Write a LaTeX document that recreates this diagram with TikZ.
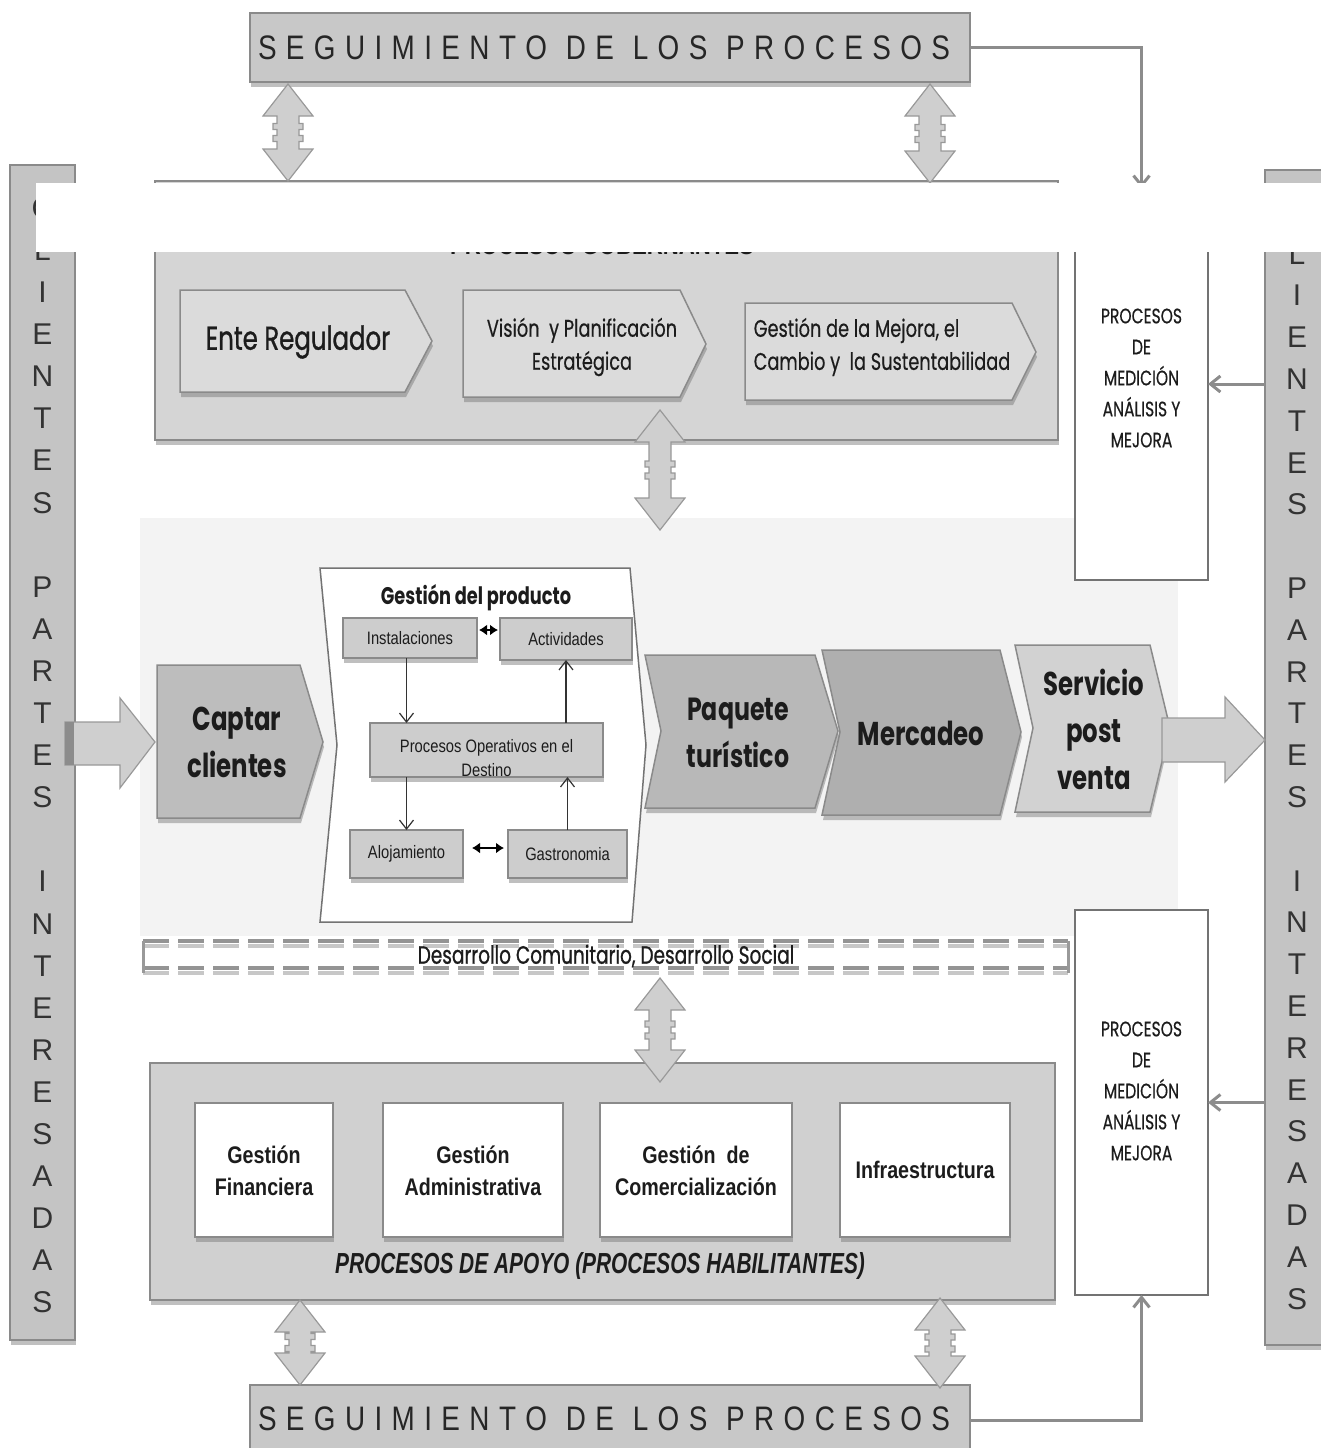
\documentclass[tikz,border=0pt]{standalone}
\usepackage{fontspec}
\usetikzlibrary{shadows,arrows.meta}
\setmainfont{Liberation Sans}
\newfontfamily\nar[FakeStretch=0.82]{Liberation Sans}
\newfontfamily\narr[FakeStretch=0.72]{Liberation Sans}
\newfontfamily\geo[FakeStretch=0.74]{Poppins}
\newfontfamily\geom[FakeStretch=0.74,FakeBold=0.9]{Poppins}
\newfontfamily\geol[FakeStretch=0.74,FakeBold=0.4]{Poppins}
\definecolor{edgec}{HTML}{8A8A8A}
\definecolor{segc}{HTML}{C8C8C8}
\definecolor{govc}{HTML}{D5D5D5}
\definecolor{chevc}{HTML}{DBDBDB}
\definecolor{captc}{HTML}{BDBDBD}
\definecolor{paqc}{HTML}{B8B8B8}
\definecolor{merc}{HTML}{AFAFAF}
\definecolor{servc}{HTML}{D2D2D2}
\definecolor{supc}{HTML}{D0D0D0}
\definecolor{barc}{HTML}{C4C4C4}
\definecolor{innerc}{HTML}{CDCDCD}
\definecolor{bandc}{HTML}{F3F3F3}
\definecolor{arrc}{HTML}{CFCFCF}
\definecolor{txtc}{HTML}{1C1C1C}
\newcommand\dblarr[3]{%
\pgfmathsetmacro\dblmid{(#2+#3)/2}%
\path[bigarr] (#1,#2) -- ({#1+25},{#2+32}) -- ({#1+11},{#2+32}) -- ({#1+11},{\dblmid-9}) -- ({#1+15},{\dblmid-9}) -- ({#1+15},{\dblmid-3}) -- ({#1+11},{\dblmid-3}) -- ({#1+11},{\dblmid+3}) -- ({#1+15},{\dblmid+3}) -- ({#1+15},{\dblmid+9}) -- ({#1+11},{\dblmid+9}) -- ({#1+11},{#3-32}) -- ({#1+25},{#3-32}) -- (#1,#3) -- ({#1-25},{#3-32}) -- ({#1-11},{#3-32}) -- ({#1-11},{\dblmid+9}) -- ({#1-15},{\dblmid+9}) -- ({#1-15},{\dblmid+3}) -- ({#1-11},{\dblmid+3}) -- ({#1-11},{\dblmid-3}) -- ({#1-15},{\dblmid-3}) -- ({#1-15},{\dblmid-9}) -- ({#1-11},{\dblmid-9}) -- ({#1-11},{#2+32}) -- ({#1-25},{#2+32}) -- cycle;}
\begin{document}
\begin{tikzpicture}[x=1pt,y=-1pt,
  every node/.style={inner sep=0pt,outer sep=0pt,text=txtc},
  shd/.style={drop shadow={shadow xshift=1pt,shadow yshift=-5pt,opacity=0.45,fill=black!55}},
  edgebox/.style={draw=edgec,line width=1.5pt},
  segbox/.style={edgebox,fill=segc,shd},
  barbox/.style={edgebox,fill=barc,shd},
  govbox/.style={edgebox,fill=govc,shd},
  supbox/.style={edgebox,fill=supc,shd},
  medbox/.style={draw=black!55,line width=1.5pt,fill=white},
  whitebox/.style={edgebox,fill=white,shd},
  smallbox/.style={edgebox,fill=innerc,shd},
  chev/.style={edgebox,shd},
  bigarr/.style={draw=black!40,line width=1.2pt,fill=arrc},
  sidelet/.style={font=\fontsize{30}{30}\selectfont,text=black!80},
  segtxt/.style={font=\nar\fontsize{34}{34}\selectfont,text=black!85},
  medtxt/.style={font=\geol\fontsize{21}{31}\selectfont,align=center},
  bigtxt/.style={font=\geo\bfseries\fontsize{33}{47}\selectfont,align=center},
  govtxt/.style={font=\geol\fontsize{24}{33}\selectfont,align=center},
  smalltxt/.style={font=\nar\fontsize{18}{24}\selectfont,align=center},
  suptxt/.style={font=\nar\bfseries\fontsize{24}{32}\selectfont,align=center},
  thinarr/.style={draw=black!80,line width=1.2pt,-{Straight Barb[length=9pt,width=14pt]}},
  dblhead/.style={draw=black,line width=2.2pt,{Latex[length=8pt,width=11pt]}-{Latex[length=8pt,width=11pt]}},
  grayconn/.style={draw=black!45,line width=3pt,-{Straight Barb[length=10pt,width=16pt]}},
  dashrow/.style={draw=black!42,line width=4pt,dash pattern=on 26pt off 9pt}
]
\useasboundingbox (0,0) rectangle (1320,1448);
% middle band background
\node[fill=bandc,minimum width=1038pt,minimum height=418pt] (band) at (659,727) {};
% side bars
\node[barbox,minimum width=65pt,minimum height=1175pt] (lbar) at (42.5,752.5) {};
\node[barbox,minimum width=70pt,minimum height=1175pt] (rbar) at (1300,757.5) {};
\foreach \l/\k in {C/0,L/1,I/2,E/3,N/4,T/5,E/6,S/7,P/9,A/10,R/11,T/12,E/13,S/14,I/16,N/17,T/18,E/19,R/20,E/21,S/22,A/23,D/24,A/25,S/26}{
  \node[sidelet] (lL\k) at (42.5,{208+42.1*\k}) {\l};
  \node[sidelet] (rL\k) at (1297,{212+41.8*\k}) {\l};
}
% seguimiento boxes
\node[segbox,minimum width=720pt,minimum height=69pt] (seg1) at (610,47.5) {};
\node[segtxt] (seg1t) at (604,48) {\makebox[692pt]{S\hfill E\hfill G\hfill U\hfill I\hfill M\hfill I\hfill E\hfill N\hfill T\hfill O\hfill\hfill D\hfill E\hfill\hfill L\hfill O\hfill S\hfill\hfill P\hfill R\hfill O\hfill C\hfill E\hfill S\hfill O\hfill S}};
\node[segbox,minimum width=720pt,minimum height=70pt] (seg2) at (610,1420) {};
\node[segtxt] (seg2t) at (604,1419) {\makebox[692pt]{S\hfill E\hfill G\hfill U\hfill I\hfill M\hfill I\hfill E\hfill N\hfill T\hfill O\hfill\hfill D\hfill E\hfill\hfill L\hfill O\hfill S\hfill\hfill P\hfill R\hfill O\hfill C\hfill E\hfill S\hfill O\hfill S}};
% governing processes
\node[govbox,minimum width=903pt,minimum height=259pt] (gov) at (606.5,310.5) {};
\node[font=\nar\bfseries\fontsize{27}{27}\selectfont] (govt) at (602,245) {PROCESOS GOBERNANTES};
\path[chev,fill=chevc] (180,290) -- (405,290) -- (432,341) -- (405,392) -- (180,392) -- cycle;
\node[font=\geom\fontsize{33}{33}\selectfont] (ente) at (298,342) {Ente Regulador};
\path[chev,fill=chevc] (463,290) -- (680,290) -- (706,344) -- (680,397) -- (463,397) -- cycle;
\node[govtxt] (vision) at (582,347) {Visión\ \ y Planificación\\Estratégica};
\path[chev,fill=chevc] (745,303) -- (1012,303) -- (1036,352) -- (1012,400) -- (745,400) -- cycle;
\node[govtxt,align=left] (mejora) at (882,347) {Gestión de la Mejora, el\\Cambio y\ \ la Sustentabilidad};
% measurement boxes
\node[medbox,minimum width=133pt,minimum height=392pt] (med1) at (1141.5,384) {};
\node[medtxt] (med1t) at (1141.5,378) {PROCESOS\\DE\\MEDICIÓN\\ANÁLISIS Y\\MEJORA};
\node[medbox,minimum width=133pt,minimum height=385pt] (med2) at (1141.5,1102.5) {};
\node[medtxt] (med2t) at (1141.5,1091) {PROCESOS\\DE\\MEDICIÓN\\ANÁLISIS Y\\MEJORA};
% value chain
\path[bigarr] (65,722) -- (120,722) -- (120,698) -- (155,742) -- (120,788) -- (120,765) -- (65,765) -- cycle;
\fill[black!45] (65,722) rectangle (74,765);
\path[chev,fill=captc] (157,665) -- (300,665) -- (323,742) -- (300,818) -- (157,818) -- cycle;
\node[bigtxt] (captar) at (237,742) {Captar\\clientes};
\path[draw=black!55,line width=1.5pt,fill=white] (320,568) -- (630,568) -- (646,745) -- (632,922) -- (320,922) -- (337,745) -- cycle;
\node[font=\geo\bfseries\fontsize{24}{24}\selectfont] (gprod) at (476,598) {Gestión del producto};
\node[smallbox,minimum width=134pt,minimum height=40pt] (inst) at (410,638) {};
\node[smalltxt] (instt) at (410,638) {Instalaciones};
\node[smallbox,minimum width=132pt,minimum height=42pt] (act) at (566,639) {};
\node[smalltxt] (actt) at (566,639) {Actividades};
\node[smallbox,minimum width=233pt,minimum height=54pt] (proc) at (486.5,750) {};
\node[smalltxt] (proct) at (486.5,758) {Procesos Operativos en el\\Destino};
\node[smallbox,minimum width=113pt,minimum height=48pt] (aloj) at (406.5,854) {};
\node[smalltxt] (alojt) at (406.5,854) {Alojamiento};
\node[smallbox,minimum width=119pt,minimum height=48pt] (gast) at (567.5,854) {};
\node[smalltxt] (gastt) at (567.5,854) {Gastronomia};
\draw[thinarr] (inst.south -| aloj.north) -- (proc.north -| aloj.north);
\draw[thinarr] (proc.south -| aloj.north) -- (aloj.north);
\draw[thinarr] (gast.north) -- (gast.north |- proc.south);
\draw[thinarr] (proc.north -| act.south) -- (act.south);
\draw[dblhead,shorten <=2pt,shorten >=2pt] ([yshift=8pt]inst.east) -- ([yshift=8pt]inst.east -| act.west);
\draw[dblhead,shorten <=9pt,shorten >=4pt] ([yshift=6pt]aloj.east) -- ([yshift=6pt]aloj.east -| gast.west);
\path[chev,fill=paqc] (645,655) -- (815,655) -- (838,731) -- (815,808) -- (645,808) -- (661,731) -- cycle;
\node[bigtxt,font=\geo\bfseries\fontsize{32}{47}\selectfont] (paq) at (738,733) {Paquete\\turístico};
\path[chev,fill=merc] (822,650) -- (1000,650) -- (1021,732) -- (1000,815) -- (822,815) -- (840,732) -- cycle;
\node[bigtxt] (merc) at (921,733) {Mercadeo};
\path[chev,fill=servc] (1015,645) -- (1150,645) -- (1170,728) -- (1150,812) -- (1015,812) -- (1033,728) -- cycle;
\node[bigtxt] (serv) at (1094,729) {Servicio\\post\\venta};
\path[bigarr] (1162,718) -- (1225,718) -- (1225,697) -- (1265,740) -- (1225,782) -- (1225,762) -- (1162,762) -- cycle;
% community band
\draw[dashrow] (143,941) -- (1068,941);
\draw[dashrow,draw=black!22] (143,946) -- (1068,946);
\draw[dashrow] (143,968) -- (1068,968);
\draw[dashrow,draw=black!22] (143,973) -- (1068,973);
\draw[draw=black!40,line width=3pt] (143,941) -- (143,973);
\draw[draw=black!40,line width=3pt] (1068,941) -- (1068,973);
\node[font=\geom\fontsize{25}{25}\selectfont] (desa) at (606,956) {Desarrollo Comunitario, Desarrollo Social};
% support processes
\node[supbox,minimum width=905pt,minimum height=237pt] (sup) at (602.5,1181.5) {};
\node[whitebox,minimum width=138pt,minimum height=134pt] (fin) at (264,1170) {};
\node[suptxt] (fint) at (264,1171) {Gestión\\Financiera};
\node[whitebox,minimum width=180pt,minimum height=134pt] (adm) at (473,1170) {};
\node[suptxt] (admt) at (473,1171) {Gestión\\Administrativa};
\node[whitebox,minimum width=192pt,minimum height=134pt] (com) at (696,1170) {};
\node[suptxt] (comt) at (696,1171) {Gestión\ \ de\\Comercialización};
\node[whitebox,minimum width=170pt,minimum height=134pt] (inf) at (925,1170) {};
\node[suptxt] (inft) at (925,1170) {Infraestructura};
\node[font=\narr\bfseries\itshape\fontsize{29}{29}\selectfont] (apoyo) at (600,1266) {PROCESOS DE APOYO (PROCESOS HABILITANTES)};
% double arrows
\dblarr{288}{84}{181}
\dblarr{930}{84}{183}
\dblarr{660}{410}{530}
\dblarr{660}{978}{1082}
\dblarr{300}{1300}{1385}
\dblarr{940}{1298}{1388}
% thin connectors
\draw[grayconn] (seg1.east) -| (med1.north);
\draw[grayconn] (seg2.east) -| (med2.south);
\draw[grayconn] (rbar.west |- med1.east) -- (med1.east);
\draw[grayconn] (rbar.west |- med2.east) -- (med2.east);
% white cover
\fill[white] (36,183) rectangle (1330,252);
\end{tikzpicture}
\end{document}
